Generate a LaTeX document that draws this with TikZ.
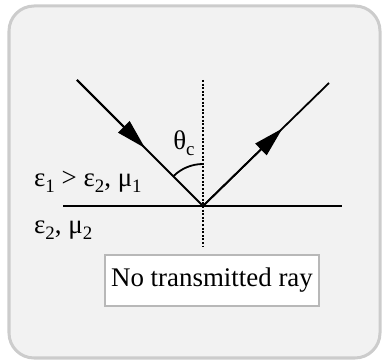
\documentclass[tikz,border=0pt]{standalone}
\usepackage{fontspec}
\setmainfont{Liberation Serif}
\usetikzlibrary{positioning,arrows.meta,calc}
\definecolor{cFrame}{HTML}{CCCCCC}
\definecolor{cBack}{HTML}{F2F2F2}
\definecolor{cInk}{HTML}{000000}
\newcommand{\lowidx}[1]{\raisebox{-0.22em}{\fontsize{19}{20}\selectfont #1}}
\tikzset{
  ray/.style={cInk, line width=1.8bp},
  tip/.style={ray, -{Triangle[length=30bp,width=16bp]}},
  lbl/.style={font=\fontsize{27}{30}\selectfont, inner sep=0pt, cInk},
  notebox/.style={draw=cFrame!90!black, fill=white, line width=1.2bp,
                  minimum width=214bp, minimum height=51bp,
                  font=\fontsize{27}{30}\selectfont}
}
\begin{document}
\begin{tikzpicture}[x=1bp,y=1bp]
\useasboundingbox (0,0) rectangle (383,363);
% frame
\draw[cFrame, fill=cBack, line width=3bp, rounded corners=25bp] (9,5) rectangle (380,357);
% interface and normal
\coordinate (o) at (203,157);
\coordinate (ifL) at (63,157);
\coordinate (ifR) at (342,157);
\coordinate (nTop) at (203,283);
\coordinate (nBot) at (203,116);
\draw[ray] (ifL) -- (ifR);
\draw[cInk, line width=2.4bp, dash pattern=on 2bp off 1.6bp] (nTop) -- (nBot);
% rays
\coordinate (inc) at (77,283);
\coordinate (refl) at (329,280);
\draw[ray] (inc) -- (o);
\draw[tip] (inc) -- ($(inc)!0.54!(o)$);
\draw[ray] (o) -- (refl);
\draw[tip] (o) -- ($(o)!0.63!(refl)$);
% critical angle
\draw[ray] ($(o)+(90:42)$) arc[start angle=90, end angle=135, radius=42];
\node[lbl] (theta) at (184,220) {θ\lowidx{c}};
% media
\node[lbl, anchor=west] (med1) at (34,181) {ε\lowidx{1} > ε\lowidx{2}, μ\lowidx{1}};
\node[lbl, anchor=west] (med2) at (34,133) {ε\lowidx{2}, μ\lowidx{2}};
\node[notebox] (note) at (212,82.5) {No transmitted ray};
\end{tikzpicture}
\end{document}
